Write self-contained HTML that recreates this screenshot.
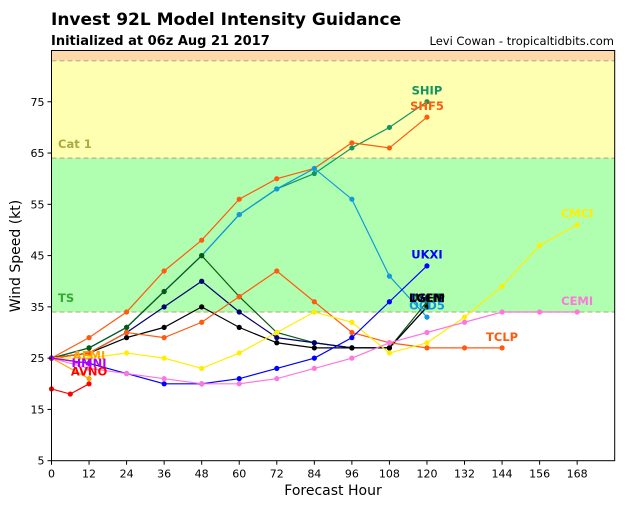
<!DOCTYPE html>
<html><head><meta charset="utf-8"><style>
body{margin:0;background:#fff;width:640px;height:500px;overflow:hidden;font-family:"Liberation Sans","DejaVu Sans",sans-serif;}
svg text{font-family:"DejaVu Sans","Liberation Sans",sans-serif;}
</style></head><body>
<svg id="chart" width="640" height="500" xmlns="http://www.w3.org/2000/svg">
<text x="51" y="25" font-size="17" font-weight="bold">Invest 92L Model Intensity Guidance</text>
<text x="51" y="45" font-size="13" font-weight="bold">Initialized at 06z Aug 21 2017</text>
<text x="614" y="45" font-size="11.5" text-anchor="end">Levi Cowan - tropicaltidbits.com</text>
<g id="plot"></g>
<text x="333" y="495" font-size="14" text-anchor="middle">Forecast Hour</text>
<text transform="translate(20,256) rotate(-90)" font-size="14" text-anchor="middle">Wind Speed (kt)</text>
</svg>
<script>
const xTicks=[0,12,24,36,48,60,72,84,96,108,120,132,144,156,168];
const yTicks=[5,15,25,35,45,55,65,75];
const bandLevels=[34,64,83];
const modelNames=["SHIP","SHF5","OCD5","DSHP","IVCN","LGEM","TCLP","CMCI","UKXI","CEMI","AEMI","HMNI","AVNO"];
const modelColors=["#129660","#ff5a10","#1199dd","#0b5a14","#000070","#000000","#ff5a10","#ffee00","#0000ff","#ff77dd","#ffa500","#aa00ff","#ff0000"];
const modelHours=[
[0,12,24,36,48,60,72,84,96,108,120],
[0,12,24,36,48,60,72,84,96,108,120],
[0,12,24,36,48,60,72,84,96,108,120],
[0,12,24,36,48,60,72,84,96,108,120],
[0,12,24,36,48,60,72,84,96,108,120],
[0,12,24,36,48,60,72,84,96,108,120],
[0,12,24,36,48,60,72,84,96,108,120,132,144],
[0,12,24,36,48,60,72,84,96,108,120,132,144,156,168],
[0,12,24,36,48,60,72,84,96,108,120],
[0,12,24,36,48,60,72,84,96,108,120,132,144,156,168],
[0,12],[0,12],[0,6,12]];
const modelValues=[
[25,27,31,38,45,53,58,61,66,70,75],
[25,29,34,42,48,56,60,62,67,66,72],
[25,27,31,38,45,53,58,62,56,41,33],
[25,27,31,38,45,37,30,28,27,27,36],
[25,26,30,35,40,34,29,28,27,27,35],
[25,26,29,31,35,31,28,27,27,27,35],
[25,26,30,29,32,37,42,36,30,28,27,27,27],
[25,25,26,25,23,26,30,34,32,26,28,33,39,47,51],
[25,24,22,20,20,21,23,25,29,36,43],
[25,23,22,21,20,20,21,23,25,28,30,32,34,34,34],
[25,21],[25,24],[19,18,20]];
const labelOffsetKt=[2.2,2.2,2.3,0.7,1.7,1.7,2.1,2.2,2.2,2.1,4.5,0.1,2.4];
const X0=51.5,X1=614.7,Y0=460.7,Y1=50.5;
const xs=h=>X0+(h-0)/180*(X1-X0);
const ys=v=>Y0-(v-5)/80*(Y0-Y1);
const NS="http://www.w3.org/2000/svg";
const g=document.getElementById('plot');
function mk(t,a){const e=document.createElementNS(NS,t);for(const k in a)e.setAttribute(k,a[k]);g.appendChild(e);return e;}
let e;
e=mk('rect',{x:X0,y:Y1,width:X1-X0,height:ys(bandLevels[2])-Y1,fill:'#ffd9aa'});


e=mk('rect',{x:X0,y:ys(bandLevels[2]),width:X1-X0,height:ys(bandLevels[1])-ys(bandLevels[2]),fill:'#ffffb2'});


e=mk('rect',{x:X0,y:ys(bandLevels[1]),width:X1-X0,height:ys(bandLevels[0])-ys(bandLevels[1]),fill:'#b0ffb0'});


bandLevels.forEach(l=>{e=mk('line',{x1:X0,x2:X1,y1:ys(l),y2:ys(l),stroke:'#b8b888','stroke-width':1.3,'stroke-dasharray':'5,3'});

});
e=mk('text',{x:58,y:ys(64)-10,'font-size':11.5,'font-weight':'bold',fill:'#aaaa44'});e.textContent='Cat 1';


e=mk('text',{x:58,y:ys(34)-10,'font-size':11.5,'font-weight':'bold',fill:'#33aa33'});e.textContent='TS';


modelNames.forEach((n,i)=>{
 const pts=modelHours[i].map((h,j)=>xs(h)+','+ys(modelValues[i][j])).join(' ');
 e=mk('polyline',{points:pts,fill:'none',stroke:modelColors[i],'stroke-width':1.2});
 
 
 modelHours[i].forEach((h,j)=>{e=mk('circle',{cx:xs(h),cy:ys(modelValues[i][j]),r:2.6,fill:modelColors[i]});
 
 });
});
modelNames.forEach((n,i)=>{
 const k=modelHours[i].length-1;
 e=mk('text',{x:xs(modelHours[i][k]),y:ys(modelValues[i][k]+labelOffsetKt[i])+4,'font-size':11.5,'font-weight':'bold','text-anchor':'middle',fill:modelColors[i]});
 e.textContent=n;
 
 
});
e=mk('rect',{x:X0,y:Y1,width:X1-X0,height:Y0-Y1,fill:'none',stroke:'#000','stroke-width':1});


xTicks.forEach(t=>{e=mk('line',{x1:xs(t),x2:xs(t),y1:Y0,y2:Y0+4,stroke:'#000'});


e=mk('text',{x:xs(t),y:Y0+17,'font-size':11,'text-anchor':'middle'});e.textContent=t;

});
yTicks.forEach(t=>{e=mk('line',{x1:X0-4,x2:X0,y1:ys(t),y2:ys(t),stroke:'#000'});


e=mk('text',{x:X0-7,y:ys(t)+4,'font-size':11,'text-anchor':'end'});e.textContent=t;

});
</script>
</body></html>
